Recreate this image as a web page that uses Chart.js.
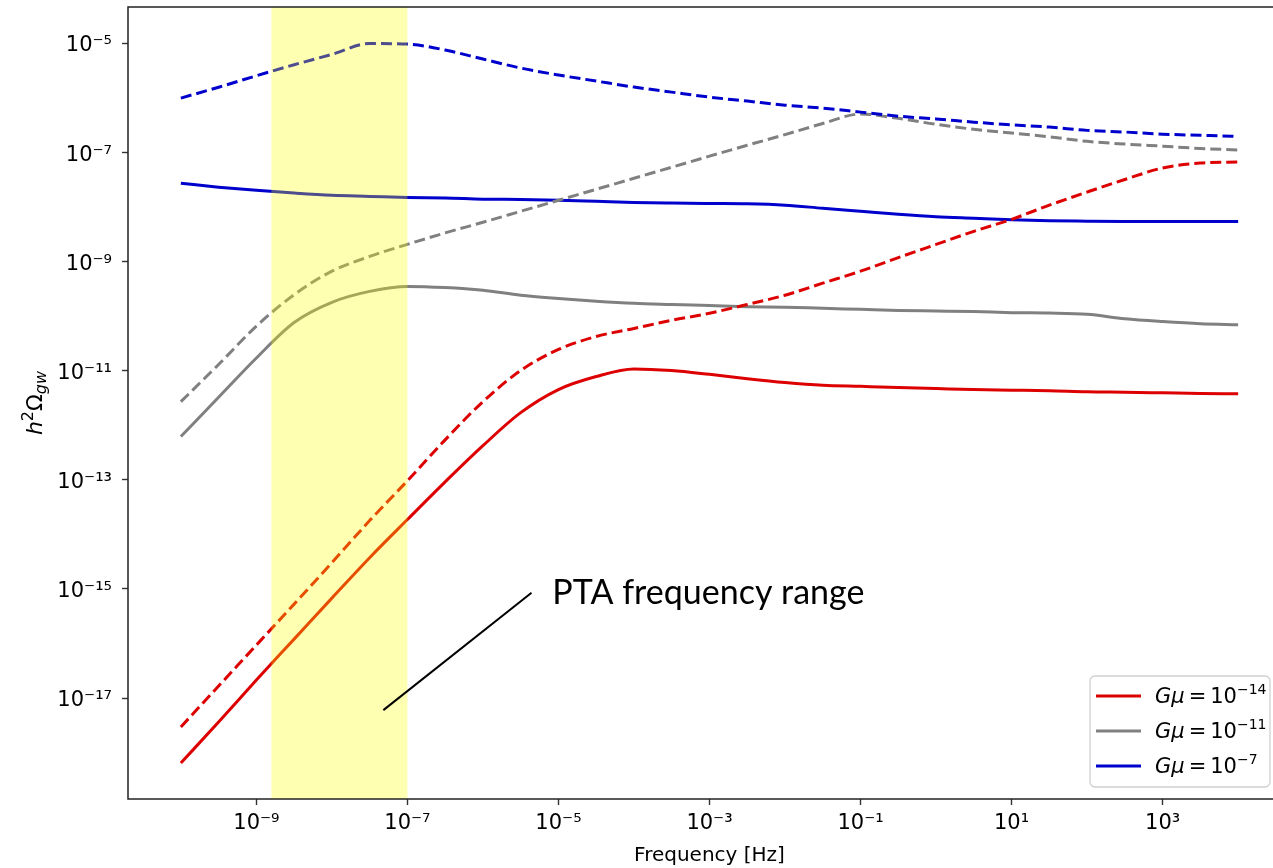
<!DOCTYPE html>
<html><head><meta charset="utf-8">
<script src="https://cdn.jsdelivr.net/npm/chart.js@4.4.0/dist/chart.umd.min.js"></script>
<style>html,body{margin:0;padding:0;background:#fff;overflow:hidden;width:1273px;height:868px}canvas{display:block}</style>
</head><body>
<canvas id="c" width="1300" height="868"></canvas>
<script>
// ---- data ----
const frequencies = [1e-10, 3.16e-10, 1e-9, 3.16e-9, 1e-8, 3.16e-8, 1e-7, 3.16e-7, 1e-6, 3.16e-6, 1e-5, 3.16e-5, 1e-4, 3.16e-4, 1e-3, 3.16e-3, 1e-2, 3.16e-2, 1e-1, 3.16e-1, 1, 3.16, 10, 31.6, 100, 316, 1000, 3160, 10000];

const redSolid = [6.46e-19, 3.63e-18, 2.14e-17, 1.20e-16, 6.76e-16, 3.72e-15, 1.86e-14, 9.12e-14, 4.2e-13, 1.69e-12, 4.48e-12, 7.76e-12, 1.07e-11, 1.0e-11, 8.51e-12, 7.08e-12, 6.03e-12, 5.37e-12, 5.13e-12, 4.90e-12, 4.68e-12, 4.47e-12, 4.37e-12, 4.27e-12, 4.07e-12, 4.0e-12, 3.9e-12, 3.8e-12, 3.75e-12];
const redDashed = [2.95e-18, 1.66e-17, 9.33e-17, 5.25e-16, 3.02e-15, 1.78e-14, 9.55e-14, 5.37e-13, 2.69e-12, 1.0e-11, 2.43e-11, 4.2e-11, 5.9e-11, 8.32e-11, 1.12e-10, 1.62e-10, 2.40e-10, 3.98e-10, 6.61e-10, 1.17e-9, 2.04e-9, 3.55e-9, 5.89e-9, 1.07e-8, 1.86e-8, 3.16e-8, 5.13e-8, 6.31e-8, 6.61e-8];
const graySolid = [6.17e-13, 3.24e-12, 1.70e-11, 7.59e-11, 1.78e-10, 2.82e-10, 3.47e-10, 3.31e-10, 2.95e-10, 2.40e-10, 2.09e-10, 1.86e-10, 1.70e-10, 1.62e-10, 1.55e-10, 1.48e-10, 1.45e-10, 1.38e-10, 1.32e-10, 1.26e-10, 1.23e-10, 1.20e-10, 1.15e-10, 1.13e-10, 1.07e-10, 8.9e-11, 7.9e-11, 7.2e-11, 6.9e-11];
const grayDashed = [2.69e-12, 1.29e-11, 6.5e-11, 2.45e-10, 6.61e-10, 1.23e-9, 2.05e-9, 3.32e-9, 5.2e-9, 8.26e-9, 1.315e-8, 2.09e-8, 3.33e-8, 5.31e-8, 8.45e-8, 1.34e-7, 2.1e-7, 3.35e-7, 5.0e-7, 4.17e-7, 3.24e-7, 2.63e-7, 2.24e-7, 1.91e-7, 1.58e-7, 1.41e-7, 1.29e-7, 1.17e-7, 1.10e-7];
const blueSolid = [2.69e-8, 2.29e-8, 2.00e-8, 1.78e-8, 1.62e-8, 1.55e-8, 1.48e-8, 1.45e-8, 1.38e-8, 1.36e-8, 1.32e-8, 1.26e-8, 1.20e-8, 1.17e-8, 1.15e-8, 1.135e-8, 1.07e-8, 9.38e-9, 8.26e-9, 7.28e-9, 6.56e-9, 6.15e-9, 5.77e-9, 5.53e-9, 5.45e-9, 5.4e-9, 5.4e-9, 5.4e-9, 5.4e-9];
const blueDashed = [9.8e-7, 1.55e-6, 2.51e-6, 4.0e-6, 6.2e-6, 9.8e-6, 9.55e-6, 7.45e-6, 5.08e-6, 3.48e-6, 2.59e-6, 2.01e-6, 1.56e-6, 1.26e-6, 1.02e-6, 8.63e-7, 7.28e-7, 6.41e-7, 5.42e-7, 4.57e-7, 4.07e-7, 3.55e-7, 3.16e-7, 2.88e-7, 2.51e-7, 2.34e-7, 2.14e-7, 2.04e-7, 1.95e-7];

const xTickExponents = [-9, -7, -5, -3, -1, 1, 3];
const yTickExponents = [-17, -15, -13, -11, -9, -7, -5];
const legendExponents = [-14, -11, -7];
const ptaRange = [1.58e-9, 1.0e-7];
const annotationText = 'PTA frequency range';
const annotationAt = {x: 8.3e-6, y: 5.3e-16};
const arrowFrom = {x: 4.8e-8, y: 6.0e-18};
const arrowTo = {x: 4.4e-6, y: 8.5e-16};

// ---- helpers ----
const SUP = {'-':'\u207B','0':'\u2070','1':'\u00B9','2':'\u00B2','3':'\u00B3','4':'\u2074','5':'\u2075','6':'\u2076','7':'\u2077','8':'\u2078','9':'\u2079'};
const sup = n => String(n).split('').map(c => SUP[c]).join('');
const pow10Label = e => '10' + sup(e);

const RED = '#dd0000', GRAY = '#808080', BLUE = '#0000cc';
const FONT = '"DejaVu Sans", sans-serif';
const LW = 3, DASH = [11, 5];

function ds(label, vals, color, dashed) {
  return {
    label, data: frequencies.map((f, i) => ({x: f, y: vals[i]})),
    borderColor: color, backgroundColor: color, borderWidth: LW,
    borderDash: dashed ? DASH : [], pointRadius: 0, fill: false,
    cubicInterpolationMode: 'monotone'
  };
}

const legendItems = [
  {color: RED, exp: legendExponents[0]},
  {color: GRAY, exp: legendExponents[1]},
  {color: BLUE, exp: legendExponents[2]},
];

function drawParts(ctx, parts, x, y) {
  let cx = x;
  for (const p of parts) {
    ctx.font = p.f;
    ctx.fillText(p.t, cx, y + (p.dy || 0));
    cx += ctx.measureText(p.t).width + (p.sp || 0);
  }
}
function partsWidth(ctx, parts) {
  let w = 0;
  for (const p of parts) { ctx.font = p.f; w += ctx.measureText(p.t).width + (p.sp || 0); }
  return w;
}

const customDraw = {
  id: 'customDraw',
  afterDatasetsDraw(chart) {
    const {ctx, chartArea: a, scales: {x}} = chart;
    ctx.save();
    ctx.beginPath(); ctx.rect(a.left, a.top, a.right - a.left, a.bottom - a.top); ctx.clip();
    const x0 = x.getPixelForValue(ptaRange[0]), x1 = x.getPixelForValue(ptaRange[1]);
    ctx.fillStyle = 'rgba(255,255,0,0.3)';
    ctx.fillRect(x0, a.top, x1 - x0, a.bottom - a.top);
    ctx.restore();
  },
  afterDraw(chart) {
    const {ctx, chartArea: a, scales: {x, y}} = chart;
    // frame
    ctx.save();
    ctx.strokeStyle = '#222'; ctx.lineWidth = 1.5;
    ctx.strokeRect(a.left, a.top, a.right - a.left, a.bottom - a.top);
    ctx.restore();

    // annotation
    ctx.save();
    ctx.strokeStyle = '#000'; ctx.lineWidth = 2;
    ctx.beginPath();
    ctx.moveTo(x.getPixelForValue(arrowFrom.x), y.getPixelForValue(arrowFrom.y));
    ctx.lineTo(x.getPixelForValue(arrowTo.x), y.getPixelForValue(arrowTo.y));
    ctx.stroke();
    ctx.fillStyle = '#000';
    ctx.font = '34px Lato, "Open Sans", sans-serif';
    ctx.textBaseline = 'alphabetic'; ctx.textAlign = 'left';
    ctx.fillText(annotationText, x.getPixelForValue(annotationAt.x), y.getPixelForValue(annotationAt.y));
    ctx.restore();

    // y axis label h^2 Omega_gw
    ctx.save();
    ctx.fillStyle = '#000'; ctx.textBaseline = 'alphabetic'; ctx.textAlign = 'left';
    const yl = [
      {t: 'h', f: 'italic 22px ' + FONT},
      {t: '2', f: '16px ' + FONT, dy: -9},
      {t: '\u03A9', f: '22px ' + FONT},
      {t: 'gw', f: 'italic 16px ' + FONT, dy: 4},
    ];
    ctx.translate(42, (a.top + a.bottom) / 2);
    ctx.rotate(-Math.PI / 2);
    drawParts(ctx, yl, -partsWidth(ctx, yl) / 2, 0);
    ctx.restore();

    // legend
    ctx.save();
    const bx = 1090, by = 676, bw = 180, bh = 111, r = 5;
    ctx.fillStyle = 'rgba(255,255,255,0.85)';
    ctx.strokeStyle = '#d0d0d0'; ctx.lineWidth = 1.3;
    ctx.beginPath();
    ctx.roundRect(bx, by, bw, bh, r);
    ctx.fill(); ctx.stroke();
    legendItems.forEach((it, i) => {
      const ry = 696 + i * 35;
      ctx.strokeStyle = it.color; ctx.lineWidth = LW;
      ctx.beginPath(); ctx.moveTo(1096, ry); ctx.lineTo(1141, ry); ctx.stroke();
      ctx.fillStyle = '#000'; ctx.textBaseline = 'alphabetic'; ctx.textAlign = 'left';
      drawParts(ctx, [
        {t: 'G\u03BC', f: 'italic 21px ' + FONT, sp: 4},
        {t: '=', f: '21px ' + FONT, sp: 4},
        {t: '10', f: '21px ' + FONT},
        {t: '\u2212' + String(Math.abs(it.exp)), f: '14px ' + FONT, dy: -9},
      ], 1155, ry + 7);
    });
    ctx.restore();
  }
};

new Chart(document.getElementById('c'), {
  type: 'line',
  data: {
    datasets: [
      ds('G\u03BC = 1e-7 (dashed)', blueDashed, BLUE, true),
      ds('G\u03BC = 1e-11 (dashed)', grayDashed, GRAY, true),
      ds('G\u03BC = 1e-14 (dashed)', redDashed, RED, true),
      ds('G\u03BC = 1e-14', redSolid, RED, false),
      ds('G\u03BC = 1e-11', graySolid, GRAY, false),
      ds('G\u03BC = 1e-7', blueSolid, BLUE, false),
    ]
  },
  options: {
    responsive: false, animation: false, events: [],
    layout: {padding: {left: 0, top: 7, right: 9, bottom: 0}},
    plugins: {legend: {display: false}, tooltip: {enabled: false}},
    scales: {
      x: {
        type: 'logarithmic', min: Math.pow(10, -10.7), max: Math.pow(10, 4.7),
        afterBuildTicks: s => { s.ticks = xTickExponents.map(e => ({value: Math.pow(10, e)})); },
        afterFit: s => { s.height = 69; s.paddingLeft = 0; s.paddingRight = 0; },
        grid: {display: true, drawOnChartArea: false, drawTicks: true, tickLength: 6, tickWidth: 1.4, color: '#333'},
        border: {display: false},
        ticks: {autoSkip: false, maxRotation: 0, padding: 6, color: '#000', font: {family: FONT, size: 21},
                callback: (v, i) => pow10Label(xTickExponents[i])},
        title: {display: true, text: 'Frequency [Hz]', color: '#000', font: {family: FONT, size: 20}, padding: {top: 0, bottom: 0}}
      },
      y: {
        type: 'logarithmic', min: Math.pow(10, -18.85), max: Math.pow(10, -4.34),
        afterBuildTicks: s => { s.ticks = yTickExponents.map(e => ({value: Math.pow(10, e)})); },
        afterFit: s => { s.width = 128; s.paddingTop = 0; s.paddingBottom = 0; },
        grid: {display: true, drawOnChartArea: false, drawTicks: true, tickLength: 6, tickWidth: 1.4, color: '#333'},
        border: {display: false},
        ticks: {autoSkip: false, padding: 10, labelOffset: 3, color: '#000', font: {family: FONT, size: 21},
                callback: (v, i) => pow10Label(yTickExponents[i])}
      }
    }
  },
  plugins: [customDraw]
});
</script>
</body></html>
